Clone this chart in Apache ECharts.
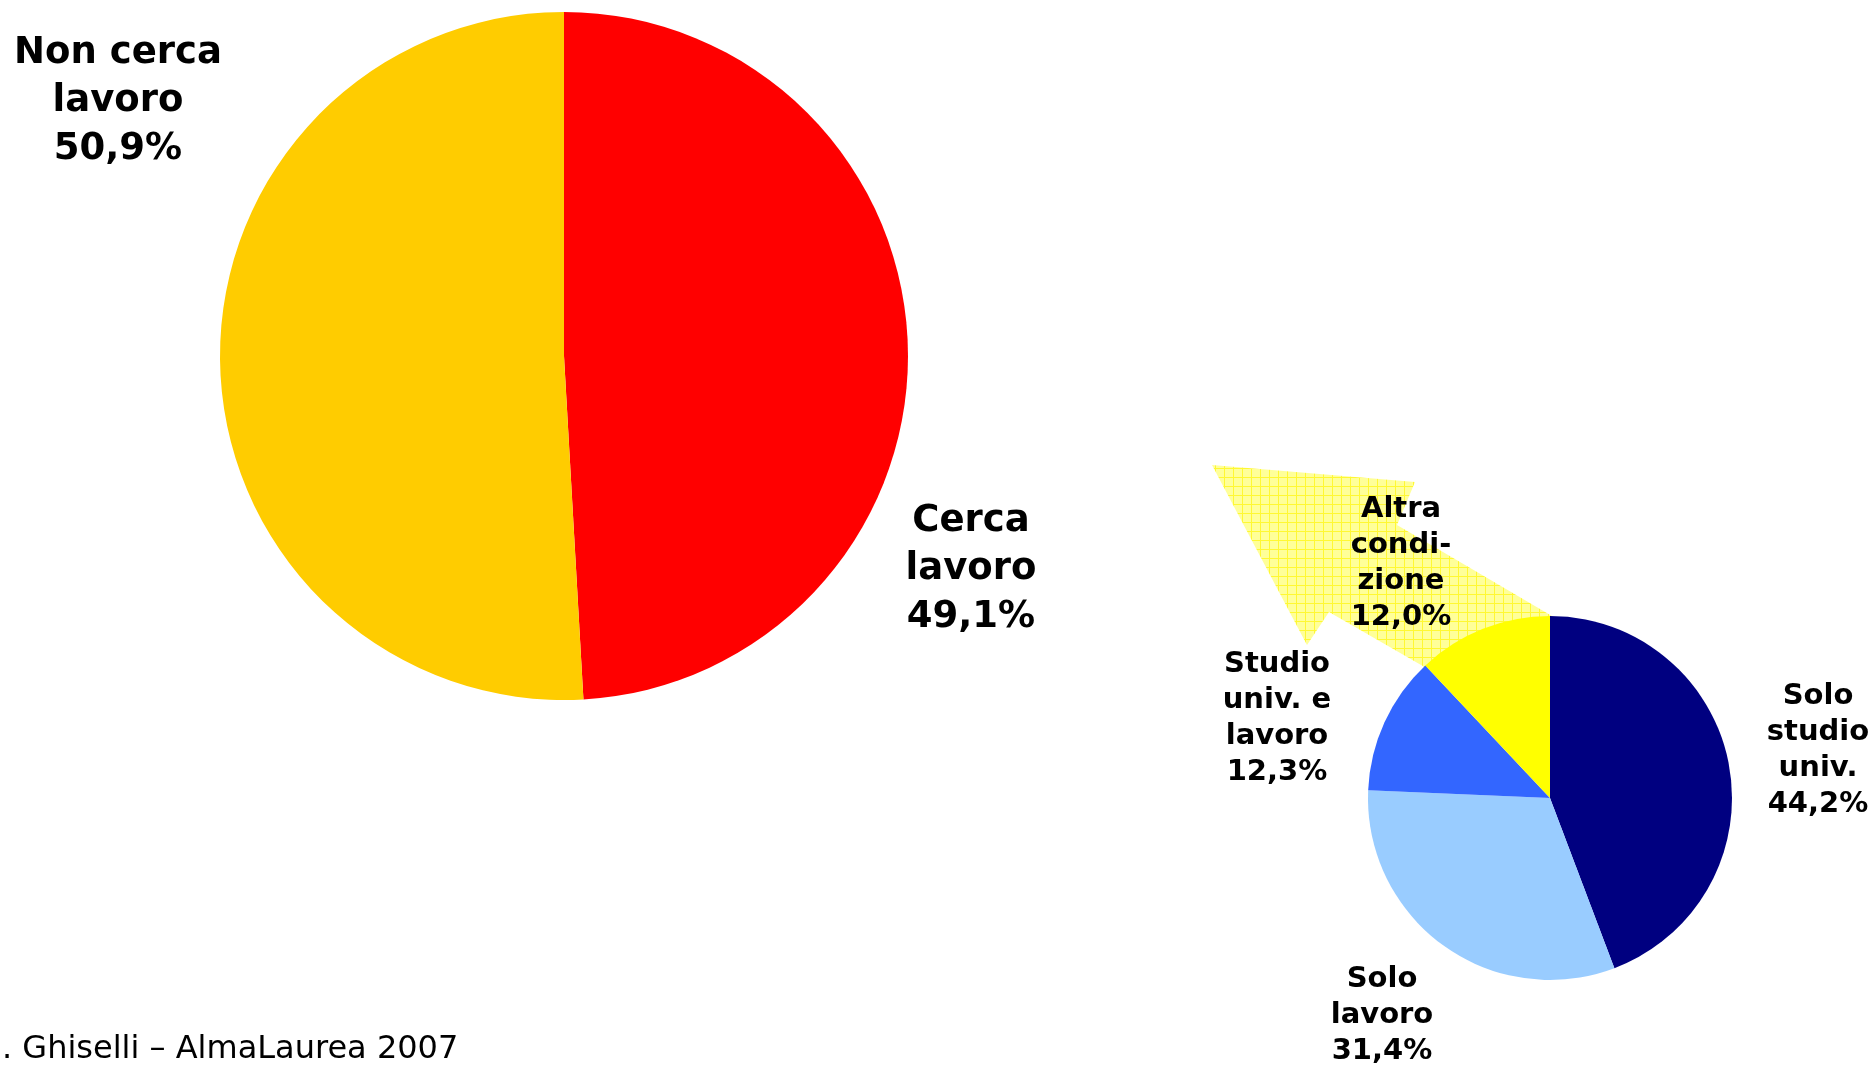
<!DOCTYPE html>
<html>
<head>
<meta charset="utf-8">
<script src="https://cdn.jsdelivr.net/npm/echarts@6/dist/echarts.min.js"></script>
<style>
  html, body { margin: 0; padding: 0; background: #fff; }
  #main { width: 1876px; height: 1066px; }
</style>
</head>
<body>
<div id="main"></div>
<script>
// dati
var bigNames = ['Cerca\nlavoro', 'Non cerca\nlavoro'];
var bigValues = [49.1, 50.9];
var bigColors = ['#FF0000', '#FFCC00'];

var smallNames = ['Solo\nstudio\nuniv.', 'Solo\nlavoro', 'Studio\nuniv. e\nlavoro', 'Altra\ncondi-\nzione'];
var smallValues = [44.2, 31.4, 12.3, 12.0];
var smallColors = ['#000080', '#99CCFF', '#3366FF', '#FFFF00'];

var footerText = '. Ghiselli \u2013 AlmaLaurea 2007';

// posizioni etichette (pixel)
var bigLabelPos = [[971, 569], [118, 101]];
var smallLabelPos = [[1818, 750], [1382, 1015], [1277, 718], [1401, 563]];

var myChart = echarts.init(document.getElementById('main'));

function fmt(p) {
    return p.name + '\n' + p.value.toFixed(1).replace('.', ',') + '%';
}

function buildData(names, values, colors) {
    var out = [];
    for (var i = 0; i < names.length; i++) {
        out.push({ name: names[i], value: values[i], itemStyle: { color: colors[i] } });
    }
    return out;
}

// trama a griglia per la freccia
var pat = document.createElement('canvas');
pat.width = 9; pat.height = 9;
var ctx = pat.getContext('2d');
ctx.fillStyle = '#FFFF99';
ctx.fillRect(0, 0, 9, 9);
ctx.fillStyle = '#FFF833';
ctx.fillRect(0, 0, 9, 1);
ctx.fillRect(0, 0, 1, 9);

var option = {
    backgroundColor: '#fff',
    animation: false,
    graphic: [
        {
            type: 'polygon',
            z: 0,
            shape: {
                points: [[1212, 465], [1415, 482], [1397, 525], [1620, 656], [1560, 745], [1329, 612], [1307, 645]]
            },
            style: { fill: { image: pat, repeat: 'repeat' } }
        },
        {
            type: 'text',
            left: 2,
            top: 1034,
            style: {
                text: footerText,
                fontFamily: 'DejaVu Sans',
                fontSize: 32,
                fill: '#000'
            }
        }
    ],
    series: [
        {
            type: 'pie',
            center: [564, 356],
            radius: 344,
            startAngle: 90,
            clockwise: true,
            itemStyle: { borderWidth: 0 },
            label: {
                show: true,
                position: 'outside',
                overflow: 'none',
                formatter: fmt,
                fontFamily: 'DejaVu Sans',
                fontWeight: 'bold',
                fontSize: 37,
                lineHeight: 48,
                color: '#000',
                align: 'center'
            },
            labelLine: { show: false },
            labelLayout: function (p) {
                var pos = bigLabelPos[p.dataIndex];
                return { x: pos[0], y: pos[1], align: 'center', verticalAlign: 'middle' };
            },
            emphasis: { disabled: true },
            data: buildData(bigNames, bigValues, bigColors)
        },
        {
            type: 'pie',
            center: [1550, 798],
            radius: 182,
            startAngle: 90,
            clockwise: true,
            itemStyle: { borderWidth: 0 },
            label: {
                show: true,
                position: 'outside',
                overflow: 'none',
                formatter: fmt,
                fontFamily: 'DejaVu Sans',
                fontWeight: 'bold',
                fontSize: 29,
                lineHeight: 36,
                color: '#000',
                align: 'center'
            },
            labelLine: { show: false },
            labelLayout: function (p) {
                var pos = smallLabelPos[p.dataIndex];
                return { x: pos[0], y: pos[1], align: 'center', verticalAlign: 'middle' };
            },
            emphasis: { disabled: true },
            data: buildData(smallNames, smallValues, smallColors)
        }
    ]
};

myChart.setOption(option);
</script>
</body>
</html>
